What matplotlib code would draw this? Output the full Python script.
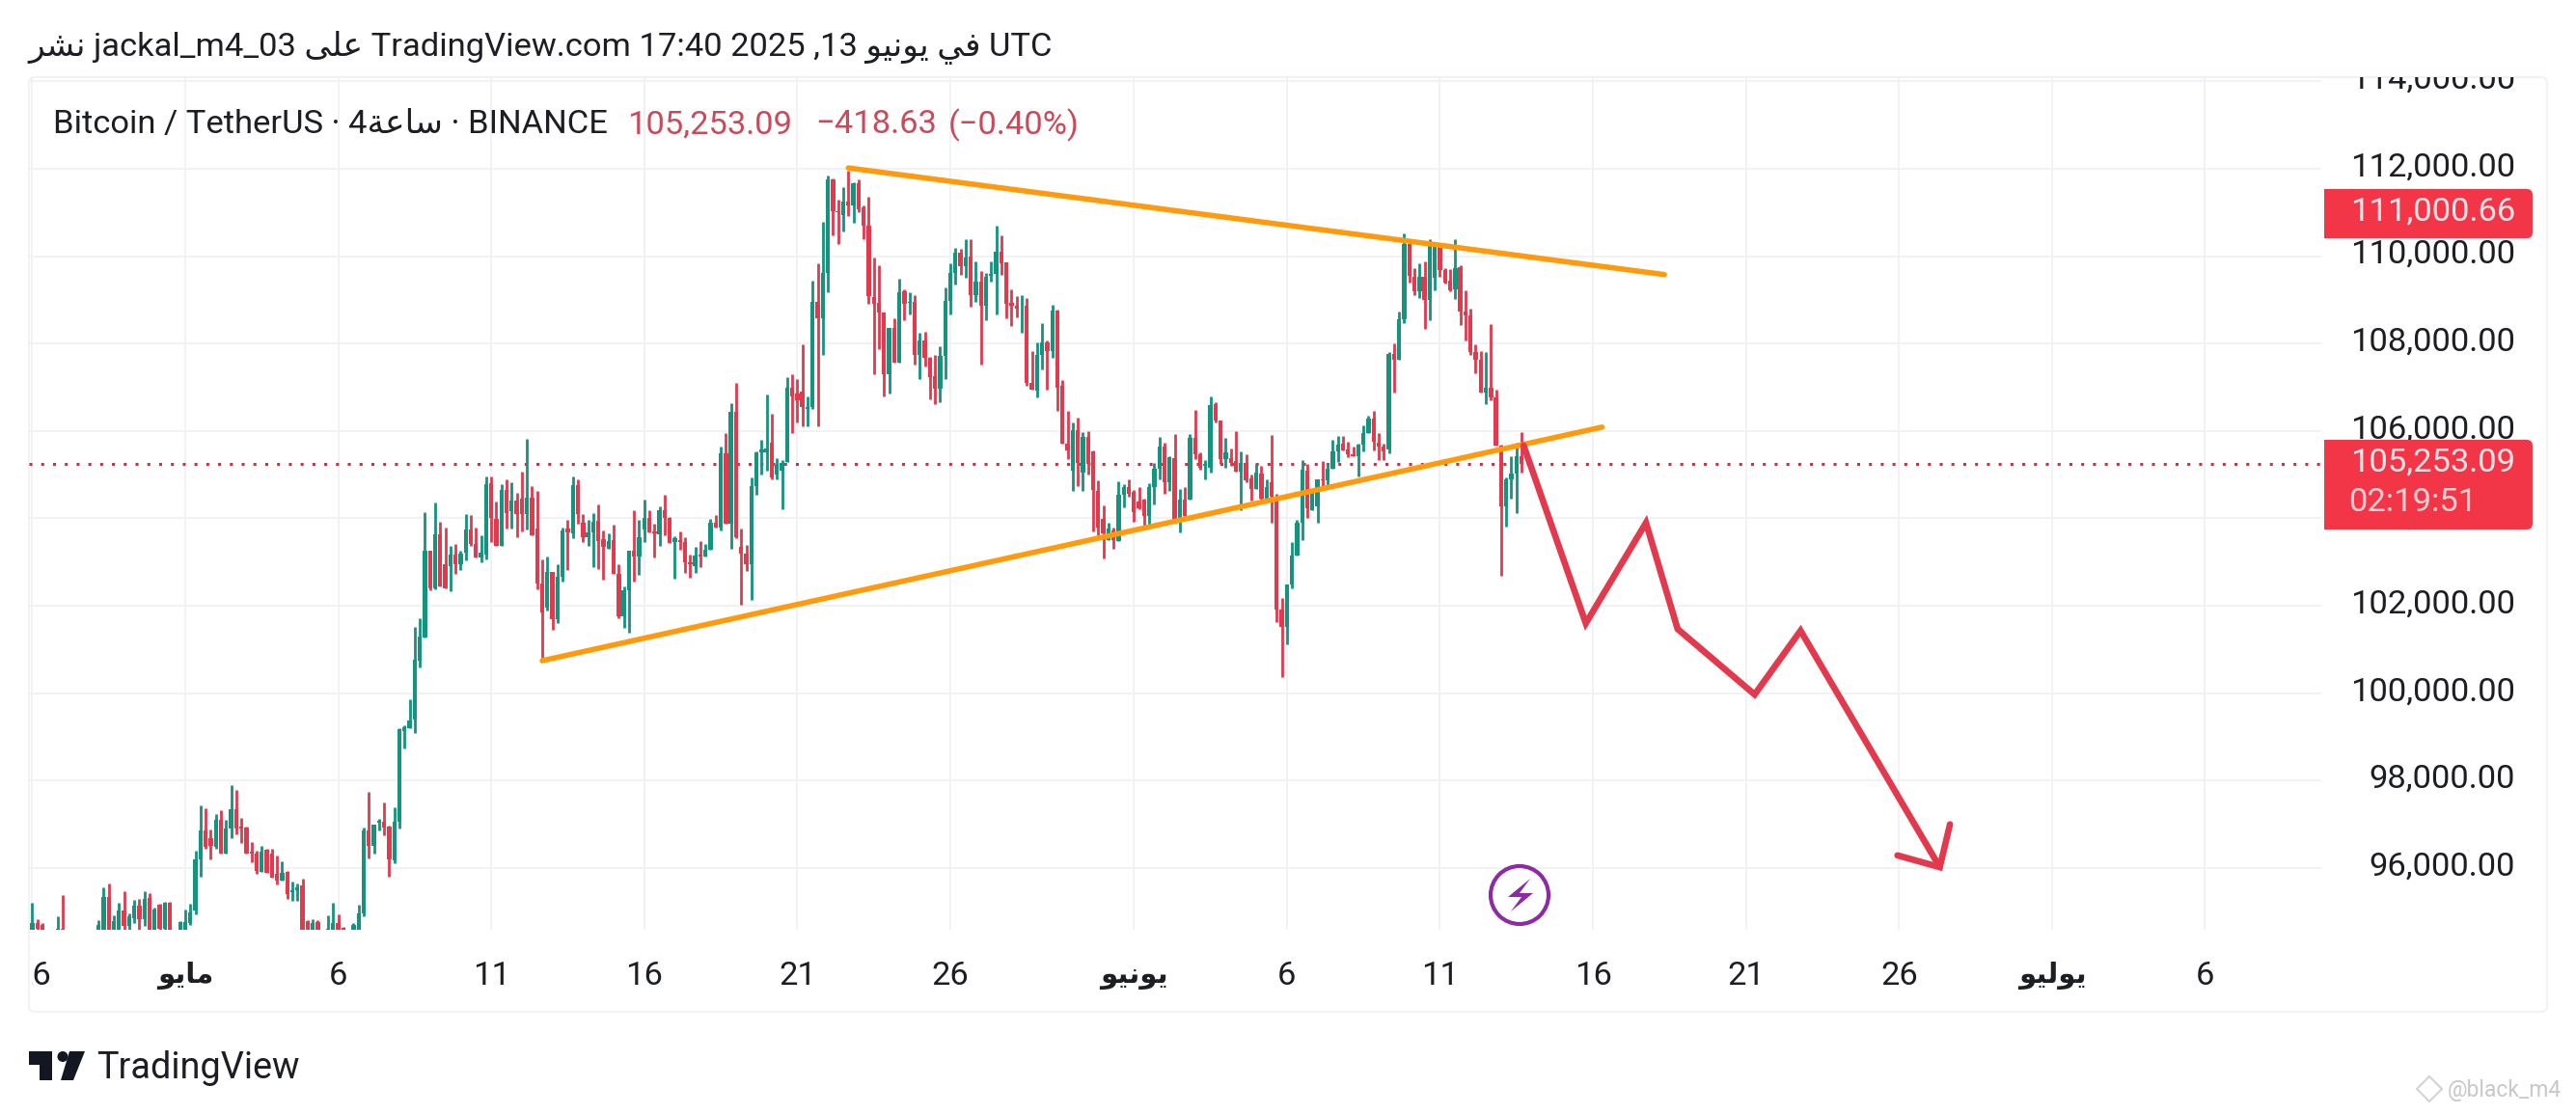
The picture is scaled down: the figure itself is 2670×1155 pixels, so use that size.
import matplotlib
matplotlib.use('Agg')
import matplotlib.pyplot as plt
import numpy as np
from matplotlib.patches import Rectangle, FancyBboxPatch, Circle, Polygon
from matplotlib.transforms import Bbox

# 4h candles in thousands of USDT, first one is 2025-04-26 (bar -30), last is bar 262
opens = [
    94.5, 94.75, 94.7, 94.4, 94.3, 94.4, 94.62, 94.4, 94.3, 94.2,
    94.3, 94.2, 94.15, 94.4, 94.55, 95.34, 94.5, 94.55, 95.03, 94.67,
    94.86, 95.13, 94.84, 95.32, 94.55, 95.15, 94.6, 95.2, 94.5, 94.5,
    94.55, 94.75, 95.03, 96.2, 96.86, 96.68, 96.48, 97.1, 96.33, 96.9,
    97.34, 96.94, 96.92, 96.38, 96.33, 95.91, 96.42, 96.32, 95.87, 95.71,
    95.91, 95.45, 95.49, 95.6, 94.79, 94.55, 94.77, 94.5, 94.45, 94.5,
    94.75, 94.64, 94.4, 94.5, 94.5, 94.97, 96.85, 96.5, 97.03, 97.05,
    96.94, 96.18, 97.05, 99.13, 99.2, 99.4, 100.75, 101.28, 103.26, 102.4,
    103.64, 102.95, 102.91, 103.17, 102.95, 103.21, 103.74, 103.41, 103.11, 103.17,
    104.8, 103.98, 103.38, 104.64, 104.17, 104.41, 104.46, 104.09, 104.47, 103.76,
    102.52, 101.96, 102.78, 101.7, 102.66, 103.76, 103.65, 104.77, 103.91, 103.58,
    103.69, 103.94, 103.52, 103.31, 103.5, 102.73, 101.77, 102.36, 103.25, 103.13,
    103.74, 104.0, 103.7, 103.64, 104.18, 104.02, 103.47, 103.5, 103.47, 102.99,
    102.91, 103.17, 103.12, 103.28, 103.91, 103.79, 105.5, 103.87, 106.44, 103.35,
    103.2, 102.95, 104.75, 105.52, 105.52, 105.74, 105.0, 105.1, 105.3, 107.0,
    106.85, 106.9, 106.5, 106.55, 108.95, 108.58, 109.62, 111.76, 111.02, 110.93,
    111.26, 111.17, 111.68, 111.12, 110.7, 109.06, 108.93, 108.71, 107.29, 108.36,
    107.57, 109.2, 108.93, 108.95, 107.75, 108.08, 107.68, 107.25, 106.96, 107.71,
    108.98, 109.61, 110.09, 109.77, 109.99, 109.11, 109.41, 108.87, 109.55, 109.59,
    110.11, 109.86, 108.93, 108.87, 108.86, 108.86, 107.11, 106.92, 107.75, 108.03,
    107.84, 108.76, 107.04, 105.7, 105.09, 106.01, 105.04, 105.86, 105.53, 104.62,
    103.98, 103.5, 103.73, 103.49, 104.54, 104.71, 104.6, 104.39, 104.43, 104.06,
    104.72, 105.13, 105.64, 104.83, 105.38, 103.98, 104.43, 104.43, 105.84, 105.46,
    105.2, 105.16, 106.61, 106.23, 105.35, 105.38, 105.31, 105.07, 105.27, 104.92,
    104.68, 105.03, 104.46, 104.82, 104.5, 101.92, 101.52, 102.49, 103.14, 103.91,
    105.09, 104.19, 104.28, 104.9, 104.87, 105.14, 105.53, 105.7, 105.57, 105.46,
    105.42, 105.68, 105.96, 106.29, 105.73, 105.65, 105.58, 107.77, 107.63, 108.55,
    110.27, 109.52, 109.19, 109.52, 108.99, 109.5, 110.24, 109.69, 109.43, 109.25,
    109.74, 108.73, 108.64, 107.81, 107.63, 106.89, 107.0, 106.78, 105.66, 104.28,
    104.9, 105.02, 105.42,
]
highs = [
    95.2, 94.82, 94.75, 94.45, 94.4, 94.9, 95.38, 94.5, 94.4, 94.35,
    94.4, 94.57, 94.45, 94.8, 95.56, 95.65, 94.91, 95.2, 95.47, 94.96,
    95.28, 95.3, 95.46, 95.43, 95.1, 95.18, 95.23, 95.23, 94.52, 94.79,
    95.06, 95.18, 96.4, 97.44, 97.36, 96.88, 97.24, 97.32, 97.1, 97.9,
    97.79, 97.14, 96.94, 96.59, 96.4, 96.5, 96.44, 96.44, 96.29, 96.15,
    95.93, 95.68, 95.65, 95.76, 94.81, 94.82, 94.8, 94.52, 94.91, 95.2,
    94.93, 94.65, 94.5, 94.75, 95.15, 96.92, 97.74, 97.0, 97.13, 97.49,
    96.96, 97.38, 99.2, 99.27, 99.86, 101.52, 101.71, 104.14, 103.26, 104.36,
    103.93, 103.8, 103.37, 103.41, 103.27, 104.09, 104.08, 103.8, 103.61, 104.97,
    104.95, 104.39, 104.79, 104.89, 104.83, 104.58, 105.08, 105.82, 104.74, 104.62,
    103.07, 103.12, 102.78, 102.95, 103.8, 103.97, 104.97, 104.9, 104.1, 103.96,
    104.13, 104.33, 103.72, 103.65, 103.85, 102.95, 102.44, 103.27, 104.19, 103.96,
    104.44, 104.19, 103.88, 104.27, 104.55, 104.03, 103.59, 103.7, 103.56, 103.17,
    103.34, 103.48, 103.41, 103.98, 104.08, 105.65, 105.96, 106.64, 107.09, 103.76,
    103.39, 104.94, 105.54, 105.8, 106.84, 106.39, 105.39, 105.34, 107.23, 107.31,
    107.18, 107.98, 106.79, 109.44, 109.83, 110.79, 111.85, 111.78, 111.3, 111.59,
    111.96, 111.7, 111.76, 111.17, 111.35, 109.96, 109.79, 108.72, 108.36, 108.58,
    109.48, 109.25, 109.18, 109.11, 108.24, 108.26, 107.69, 107.73, 107.93, 109.28,
    109.83, 110.2, 110.16, 110.4, 110.4, 109.88, 109.66, 109.61, 109.88, 110.69,
    110.48, 109.86, 109.25, 109.09, 109.11, 109.04, 107.83, 108.03, 108.47, 108.08,
    108.89, 108.78, 107.16, 106.45, 106.2, 106.3, 105.97, 105.99, 105.55, 104.87,
    104.3, 103.89, 103.8, 104.85, 104.79, 104.89, 104.65, 104.72, 104.46, 104.81,
    105.27, 105.86, 105.73, 105.42, 105.93, 104.67, 104.72, 105.93, 106.49, 105.51,
    105.33, 106.8, 106.67, 106.24, 105.85, 105.6, 105.99, 105.53, 105.46, 105.0,
    105.24, 105.21, 104.9, 105.91, 104.57, 102.17, 102.49, 103.45, 103.97, 105.33,
    105.25, 104.61, 104.9, 105.31, 105.26, 105.79, 105.88, 105.88, 105.75, 105.64,
    105.7, 106.14, 106.34, 106.47, 105.95, 105.71, 107.81, 108.01, 108.74, 110.52,
    110.29, 109.72, 109.83, 109.89, 110.39, 110.29, 110.26, 109.72, 109.7, 110.39,
    109.8, 109.21, 108.8, 107.98, 107.83, 107.81, 108.45, 106.94, 105.68, 104.94,
    105.42, 105.73, 105.97,
]
lows = [
    94.4, 94.5, 94.4, 94.2, 94.2, 94.3, 94.3, 94.2, 94.1, 94.1,
    94.15, 94.1, 94.1, 94.3, 94.4, 94.4, 94.4, 94.4, 94.55, 94.5,
    94.75, 94.5, 94.67, 94.4, 94.4, 94.55, 94.55, 94.4, 94.2, 94.4,
    94.45, 94.7, 94.93, 95.8, 96.45, 96.2, 96.45, 96.33, 96.33, 96.68,
    96.77, 96.57, 96.33, 96.13, 95.87, 95.91, 95.89, 95.78, 95.62, 95.71,
    95.3, 95.24, 95.24, 94.4, 94.4, 94.45, 94.45, 94.2, 94.35, 94.4,
    94.4, 94.4, 94.2, 94.4, 94.45, 94.9, 96.23, 96.32, 96.86, 96.74,
    95.81, 96.1, 96.9, 98.74, 99.2, 99.1, 100.6, 101.28, 102.36, 102.38,
    102.44, 102.4, 102.33, 102.73, 102.83, 103.05, 103.37, 103.11, 103.0, 103.07,
    103.47, 103.37, 103.38, 103.76, 103.76, 103.57, 103.7, 103.75, 103.61, 102.38,
    100.74, 101.9, 101.44, 101.61, 102.55, 102.83, 103.54, 103.87, 103.47, 103.38,
    102.88, 102.85, 102.6, 103.31, 102.73, 101.72, 101.49, 101.39, 102.56, 102.71,
    103.47, 103.69, 103.11, 103.36, 103.61, 103.43, 102.62, 103.28, 102.75, 102.64,
    102.75, 102.88, 103.12, 103.28, 103.78, 103.72, 103.87, 103.3, 103.54, 102.03,
    102.8, 102.14, 104.53, 105.0, 105.1, 104.9, 104.9, 104.2, 105.3, 105.96,
    106.2, 106.1, 106.1, 106.5, 106.1, 107.73, 109.18, 110.47, 110.27, 110.56,
    110.92, 110.76, 111.0, 110.4, 108.91, 107.31, 107.88, 106.8, 106.86, 107.57,
    107.57, 108.54, 108.67, 107.51, 107.2, 107.47, 106.72, 106.61, 106.65, 107.18,
    108.67, 109.36, 109.57, 109.5, 108.85, 108.95, 107.51, 108.54, 109.42, 108.67,
    109.57, 108.58, 108.4, 108.61, 108.25, 107.03, 106.94, 106.77, 107.42, 106.94,
    107.68, 106.46, 105.7, 105.35, 104.62, 104.74, 104.62, 105.0, 103.71, 103.62,
    103.08, 103.5, 103.3, 103.49, 104.26, 104.49, 103.93, 104.21, 103.76, 103.8,
    104.33, 104.9, 104.57, 104.62, 103.98, 103.67, 104.06, 104.43, 105.35, 105.12,
    104.89, 105.04, 106.2, 105.24, 105.16, 105.2, 105.07, 104.18, 104.83, 104.41,
    104.68, 104.41, 104.46, 103.91, 101.63, 100.38, 101.12, 102.39, 103.14, 103.51,
    104.02, 104.19, 103.89, 104.65, 104.68, 105.14, 105.29, 105.55, 105.4, 105.42,
    104.96, 105.53, 105.96, 105.55, 105.33, 105.33, 105.49, 106.87, 107.63, 108.46,
    109.39, 109.1, 109.05, 108.33, 108.53, 109.23, 109.52, 109.37, 109.19, 109.01,
    108.42, 108.07, 107.74, 107.33, 106.89, 106.61, 106.71, 105.66, 102.68, 103.82,
    104.45, 104.13, 105.04,
]
closes = [
    94.75, 94.6, 94.5, 94.3, 94.35, 94.62, 94.4, 94.3, 94.2, 94.3,
    94.2, 94.15, 94.4, 94.7, 95.34, 94.55, 94.78, 95.03, 94.67, 94.9,
    95.13, 94.84, 95.3, 94.55, 95.06, 94.6, 95.2, 94.55, 94.3, 94.77,
    94.77, 94.98, 96.2, 96.86, 96.48, 96.5, 97.1, 96.33, 96.9, 97.34,
    96.9, 96.9, 96.33, 96.33, 95.94, 96.38, 95.89, 95.78, 95.72, 95.89,
    95.41, 95.49, 95.56, 94.55, 94.55, 94.75, 94.55, 94.4, 94.6, 94.75,
    94.5, 94.5, 94.3, 94.7, 94.97, 96.85, 96.5, 96.99, 97.08, 96.92,
    96.2, 97.05, 99.18, 99.22, 99.38, 100.77, 101.3, 103.27, 102.4, 103.63,
    102.44, 102.4, 103.17, 102.95, 103.19, 103.74, 103.41, 103.11, 103.21, 104.79,
    104.0, 103.37, 104.66, 104.13, 104.41, 104.1, 104.09, 104.47, 103.61, 102.51,
    101.85, 102.78, 101.7, 102.66, 103.72, 103.67, 104.77, 104.09, 103.58, 103.69,
    103.93, 103.49, 103.34, 103.48, 102.73, 101.75, 102.36, 103.25, 103.13, 103.56,
    104.0, 103.69, 103.65, 104.18, 104.0, 103.43, 103.54, 103.47, 102.99, 102.95,
    103.15, 103.12, 103.28, 103.91, 103.78, 105.5, 103.87, 106.44, 103.57, 103.2,
    102.95, 104.75, 105.52, 105.57, 105.6, 104.93, 105.23, 105.27, 107.0, 106.8,
    106.7, 106.55, 106.55, 108.95, 108.58, 109.62, 111.76, 111.02, 111.0, 111.26,
    111.17, 111.68, 111.08, 110.7, 109.08, 108.91, 108.71, 107.29, 108.36, 107.57,
    109.18, 108.91, 108.96, 107.75, 108.08, 107.68, 107.24, 106.96, 107.71, 108.98,
    109.61, 110.09, 109.77, 109.98, 109.11, 109.41, 108.87, 109.52, 109.59, 110.11,
    109.84, 108.92, 108.86, 108.81, 108.87, 107.09, 106.94, 107.75, 108.03, 107.84,
    108.76, 107.0, 105.7, 105.55, 106.01, 105.27, 105.86, 105.24, 104.65, 103.8,
    103.65, 103.76, 103.5, 104.55, 104.71, 104.57, 104.15, 104.23, 104.06, 104.72,
    105.13, 105.64, 104.83, 105.4, 103.98, 104.43, 104.06, 105.84, 105.46, 105.16,
    105.24, 106.6, 106.23, 105.35, 105.51, 105.26, 105.07, 105.27, 104.87, 104.68,
    105.05, 104.46, 104.72, 104.5, 101.92, 101.52, 102.49, 103.14, 103.91, 105.11,
    104.24, 104.57, 104.89, 104.87, 105.14, 105.53, 105.68, 105.55, 105.46, 105.42,
    105.68, 105.96, 106.29, 105.75, 105.64, 105.53, 107.77, 107.63, 108.55, 110.27,
    109.54, 109.19, 109.52, 108.99, 110.27, 110.26, 109.69, 109.39, 109.21, 109.72,
    108.73, 108.64, 107.81, 107.63, 106.89, 107.0, 106.78, 105.66, 104.28, 104.9,
    105.02, 105.42, 105.25,
]
first_bar = -30

# price axis and time axis
price_ticks = [96000, 98000, 100000, 102000, 104000, 106000, 108000, 110000, 112000, 114000]
tick_days = [-5, 0, 5, 10, 15, 20, 25, 31, 36, 41, 46, 51, 56, 61, 66]
MAY = '\uFEEE\uFEF3\uFE8E\uFEE3'
JUNE = '\uFEEE\uFEF4\uFEE7\uFEEE\uFEF3'
JULY = '\uFEEE\uFEF4\uFEDF\uFEEE\uFEF3'
tick_labels = ['26', MAY, '6', '11', '16', '21', '26', JUNE, '6', '11', '16', '21', '26', JULY, '6']

# drawings: (bar index, price)
support_x = [70, 277.8]
support_y = [100745, 106090]
resist_x = [130, 290]
resist_y = [112020, 109580]
path_x = [262.4, 274.6, 286.4, 292.6, 307.7, 316.7, 344]
path_y = [105670, 101600, 103900, 101470, 99970, 101430, 96020]
head_x = [335.7, 344, 346]
head_y = [96290, 96020, 97000]
last_price = 105253.09
alert_price = 111000.66

GREEN = '#14937e'
RED = '#e2394d'
ORANGE = '#ff9a0d'
GRID = '#eff1f4'
TEXT = '#1c1e24'
W, H = 2670, 1155
FONT = ['Roboto', 'DejaVu Sans']
plt.rcParams['font.family'] = FONT

fig = plt.figure(figsize=(W / 100, H / 100), dpi=100, facecolor='white')


def rect(left, top, right, bottom):
    return [left / W, 1 - bottom / H, (right - left) / W, (bottom - top) / H]


# page in pixels, for the frame and the texts around the chart
page = fig.add_axes([0, 0, 1, 1], zorder=1)
page.set_xlim(0, W)
page.set_ylim(H, 0)
page.axis('off')
page.add_patch(FancyBboxPatch((30, 80), 2610, 969, boxstyle='round,pad=0,rounding_size=6',
                              fc='white', ec='#f1f2f4', lw=1.5))

ax = fig.add_axes(rect(30, 80, 2406, 964), zorder=2)
ax.patch.set_alpha(0)
ax.set_xlim(-30.64, 418.8)
ax.set_ylim(94587, 114097)
for s in ax.spines.values():
    s.set_visible(False)
ax.tick_params(left=False, bottom=False, labelleft=False, labelbottom=False)
ax.set_xticks(np.array(tick_days) * 6)
ax.set_yticks(price_ticks)
ax.grid(True, color=GRID, lw=1.3)
ax.set_axisbelow(True)

o = np.array(opens) * 1000
h = np.array(highs) * 1000
l = np.array(lows) * 1000
c = np.array(closes) * 1000
bars = first_bar + np.arange(len(o))
up = c >= o
cols = np.where(up, GREEN, RED)

ax.axhline(last_price, color='#b83a4a', lw=2.2, dashes=(1.0, 3.0), zorder=2)
ax.vlines(bars, l, h, colors=cols, lw=2.0, zorder=3)
ax.bar(bars, np.abs(c - o), bottom=np.minimum(o, c), width=0.82, color=cols, zorder=3)

line_kw = dict(solid_capstyle='round', solid_joinstyle='miter', zorder=4)
ax.plot(support_x, support_y, color=ORANGE, lw=4, **line_kw)
ax.plot(resist_x, resist_y, color=ORANGE, lw=4, **line_kw)
ax.plot(path_x, path_y, color=RED, lw=4.8, **line_kw)
ax.plot(head_x, head_y, color=RED, lw=4.8, **line_kw)

# purple alert icon
page2 = fig.add_axes([0, 0, 1, 1], zorder=3)
page2.set_xlim(0, W)
page2.set_ylim(H, 0)
page2.axis('off')
page2.add_patch(Circle((1575, 928), 30, fc='white', ec='#8e2aa6', lw=3))
bolt = np.array([[11, -17], [-12, 2], [2, 2], [-9, 17], [14, -2], [0, -2]]) + [1575, 928]
page2.add_patch(Polygon(bolt, fc='#8e2aa6', ec='none'))

# price labels, clipped at the top of the pane like the original
size = 24.8
top_clip = Bbox([[2406, H - 964], [2640, H - 80]])
for p in price_ticks:
    yy = 900 - (p - 96000) * 0.04533
    t = page2.text(2607, yy - 1.5, f'{p:,.2f}', ha='right', va='center', fontsize=size,
                   color=TEXT, zorder=5)
    t.set_clip_box(top_clip)
    t.set_clip_on(True)

# time labels, the first one is cut by the pane edge
left_clip = Bbox([[33, 0], [2406, H]])
for d, lab in zip(tick_days, tick_labels):
    xx = 192 + d * 31.72
    arabic = lab in (MAY, JUNE, JULY)
    t = page2.text(xx, 1012, lab, ha='center', va='center', fontsize=21 if arabic else size,
                   color=TEXT, fontweight='bold' if arabic else 'normal')
    t.set_clip_box(left_clip)
    t.set_clip_on(True)


def price_box(top, bottom):
    page2.add_patch(FancyBboxPatch((2409, top), 216, bottom - top,
                                   boxstyle='round,pad=0,rounding_size=6', fc='#f23648', ec='none', zorder=6))
    page2.add_patch(Rectangle((2409, top), 20, bottom - top, fc='#f23648', ec='none', zorder=6))


price_box(196, 247)
page2.text(2607, 219.5, f'{alert_price:,.2f}', ha='right', va='center', fontsize=size,
           color='#fde4e7', zorder=7)
price_box(456, 549)
page2.text(2607, 479.5, f'{last_price:,.2f}', ha='right', va='center', fontsize=size,
           color='#fde4e7', zorder=7)
page2.text(2434, 521.5, '02:19:51', ha='left', va='center', fontsize=size,
           color='#fbd0d5', zorder=7)

# header lines
header = ('\uFEAE\uFEB8\uFEE7 jackal_m4_03 \uFEF0\uFEE0\uFECB TradingView.com 17:40 2025 ,13 '
          '\uFEEE\uFEF4\uFEE7\uFEEE\uFEF3 \uFEF2\uFED3 UTC')
page2.text(29, 48.5, header, ha='left', va='center', fontsize=size, color=TEXT)
symbol = 'Bitcoin / TetherUS \u00b7 4\uFE94\uFECB\uFE8E\uFEB3 \u00b7 BINANCE'
page2.text(55, 129.5, symbol, ha='left', va='center', fontsize=size, color=TEXT)
DIM_RED = '#cb4a5a'
page2.text(650, 129.5, '105,253.09', ha='left', va='center', fontsize=size, color=DIM_RED)
page2.text(845, 129.5, '\u2212418.63', ha='left', va='center', fontsize=size, color=DIM_RED)
page2.text(983, 129.5, '(\u22120.40%)', ha='left', va='center', fontsize=size, color=DIM_RED)

# TradingView logo and name
INK = '#131722'
page2.add_patch(Polygon([[30, 1090], [54, 1090], [54, 1120], [41, 1120], [41, 1104], [30, 1104]], fc=INK, ec='none'))
page2.add_patch(Circle((65, 1095.5), 5.5, fc=INK, ec='none'))
page2.add_patch(Polygon([[72, 1090], [88, 1090], [76, 1120], [63, 1120]], fc=INK, ec='none'))
page2.text(100, 1107, 'TradingView', ha='left', va='center', fontsize=27.3, color=TEXT)

# watermark
page2.plot([2518], [1129], marker='D', ms=13, mfc='none', mec='#d4d4d4', mew=1.5)
page2.text(2537, 1131, '@black_m4', ha='left', va='center', fontsize=16.5, color='#c8c8c8')

fig.savefig('out.png', dpi=100, facecolor='white')
